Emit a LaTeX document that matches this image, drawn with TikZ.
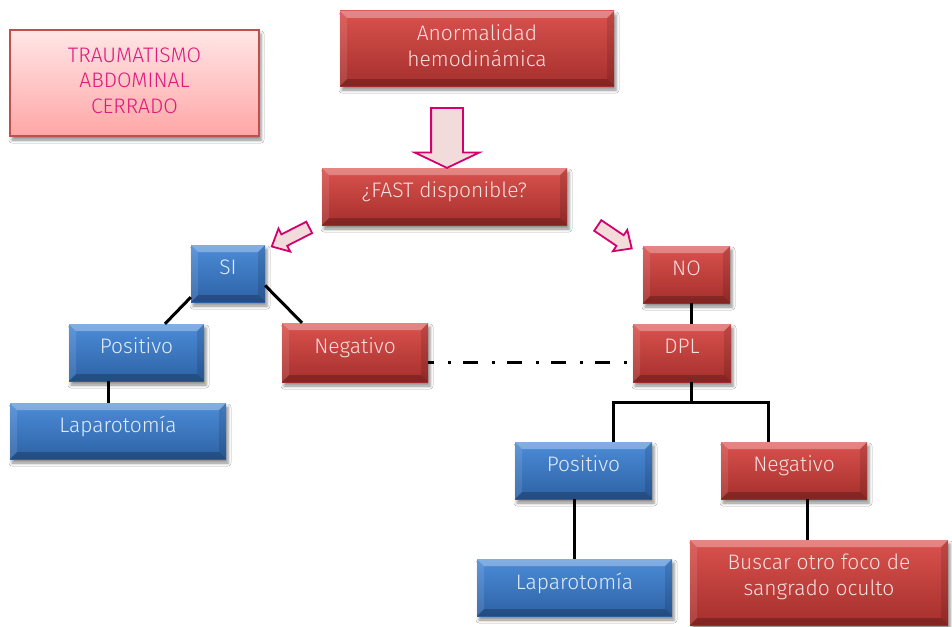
\documentclass[tikz,border=0pt]{standalone}
\usepackage{fontspec}
\setmainfont{Fira Sans Light}
\usetikzlibrary{shapes.arrows,shadows.blur}

\definecolor{redtop}{HTML}{DA524E}
\definecolor{redbot}{HTML}{A52F2C}
\definecolor{bluetop}{HTML}{4C8CD8}
\definecolor{bluebot}{HTML}{2D62A5}
\definecolor{redtext}{HTML}{F6E0E0}
\definecolor{bluetext}{HTML}{E2ECF8}
\definecolor{pinktop}{HTML}{FFE6E6}
\definecolor{pinkbot}{HTML}{FFA6A6}
\definecolor{pinkedge}{HTML}{C0504D}
\definecolor{titlepink}{HTML}{E0197D}
\definecolor{arrowfill}{HTML}{F2DCDB}
\definecolor{arrowedge}{HTML}{D4006E}

% bevelled faces drawn inside each box
\newcommand\bevelfaces{%
  \path (path picture bounding box.north west) coordinate (bv1)
        (path picture bounding box.north east) coordinate (bv2)
        (path picture bounding box.south east) coordinate (bv3)
        (path picture bounding box.south west) coordinate (bv4);
  \path ([shift={(7pt,-7pt)}]bv1) coordinate (iv1)
        ([shift={(-7pt,-7pt)}]bv2) coordinate (iv2)
        ([shift={(-7pt,7pt)}]bv3) coordinate (iv3)
        ([shift={(7pt,7pt)}]bv4) coordinate (iv4);
  \fill[white,opacity=.30] (bv1)--(bv2)--(iv2)--(iv1)--cycle;
  \fill[white,opacity=.10] (bv1)--(iv1)--(iv4)--(bv4)--cycle;
  \fill[black,opacity=.12] (bv2)--(bv3)--(iv3)--(iv2)--cycle;
  \fill[black,opacity=.22] (bv4)--(iv4)--(iv3)--(bv3)--cycle;
}

\newcommand\boxliftdepth{13}
\tikzset{
  % extra depth under the last line so the text sits a little high
  lift/.code={\renewcommand\boxliftdepth{#1}},
  plainbox/.style={rectangle, inner sep=0pt, align=center,
    font=\fontsize{21}{25.5}\selectfont, lift=13,
    execute at end node={\rule[-\boxliftdepth pt]{0pt}{\boxliftdepth pt}},
    blur shadow={shadow xshift=2pt, shadow yshift=-4pt,
                 shadow blur radius=3pt, shadow opacity=45}},
  box/.style={plainbox, path picture={\bevelfaces}},
  redbox/.style={box, top color=redtop, bottom color=redbot, text=redtext},
  bluebox/.style={box, top color=bluetop, bottom color=bluebot, text=bluetext},
  titlebox/.style={plainbox, top color=pinktop, bottom color=pinkbot,
    draw=pinkedge, line width=1.5pt, text=titlepink},
  sz/.style 2 args={minimum width=#1pt, minimum height=#2pt},
  link/.style={line width=3pt, black},
  dashdot/.style={line width=3pt, black,
    dash pattern=on 15pt off 14pt on 3pt off 12pt, dash phase=9pt},
  blockarrow/.style={single arrow, fill=arrowfill, draw=arrowedge,
    line width=1.8pt, inner xsep=0pt, single arrow head indent=0pt},
}

\begin{document}
\begin{tikzpicture}[x=1pt,y=-1pt]
\fill[white] (0,0) rectangle (952,626);
\useasboundingbox (0,0) rectangle (952,626);

% boxes
\node[titlebox, sz={249}{106}, lift=5] (title) at (134.5,83) {TRAUMATISMO\\ABDOMINAL\\CERRADO};
\node[redbox, sz={274}{75}, lift=6] (anorm) at (477,48.5) {Anormalidad\\hemodinámica};
\node[redbox, sz={245}{57}] (fast) at (444.5,196.5) {¿FAST disponible?};
\node[bluebox, sz={74}{57}] (si) at (228,273.5) {SI};
\node[redbox, sz={87}{57}] (no) at (686.5,274.5) {NO};
\node[bluebox, sz={135}{57}] (posL) at (136.5,352.5) {Positivo};
\node[redbox, sz={146}{59}] (negL) at (355,352.5) {Negativo};
\node[redbox, sz={98}{58}] (dpl) at (682,353) {DPL};
\node[bluebox, sz={216}{56}] (lapL) at (118,431) {Laparotomía};
\node[bluebox, sz={137}{57}] (posR) at (583.5,470.5) {Positivo};
\node[redbox, sz={146}{57}] (negR) at (794,470.5) {Negativo};
\node[bluebox, sz={195}{57}] (lapR) at (574.5,587.5) {Laparotomía};
\node[redbox, sz={258}{85}, lift=16] (busca) at (819,582.5) {Buscar otro foco de\\sangrado oculto};

% block arrows
\node[blockarrow, rotate=-90, anchor=tail, minimum height=60pt, inner ysep=15pt,
      single arrow head extend=16.5pt, single arrow tip angle=129] (down) at (447,107) {};
\node[blockarrow, rotate=207, anchor=tail, minimum height=42pt, inner ysep=5.5pt,
      single arrow head extend=6.5pt, single arrow tip angle=85] (toSi) at (310,227) {};
\node[blockarrow, rotate=-34, anchor=tail, minimum height=41pt, inner ysep=5.5pt,
      single arrow head extend=6.5pt, single arrow tip angle=85] (toNo) at (597,225) {};

% connectors
\draw[link] ([yshift=5pt]si.south west) -- ([xshift=28.5pt]posL.north);
\draw[link] ([yshift=-12pt]si.east) -- ([xshift=-53pt]negL.north);
\draw[link] ([xshift=-28.5pt]posL.south) -- ([xshift=-28.5pt]posL.south |- lapL.north);
\draw[link] ([xshift=4.5pt]no.south) -- ([xshift=4.5pt]no.south |- dpl.north);
\draw[dashdot] ([yshift=-10pt]negL.east) -- ([yshift=-10pt]negL.east -| dpl.west);
\coordinate (split) at ([xshift=9pt,yshift=-20pt]dpl.south);
\draw[link] ([xshift=9pt]dpl.south) -- (split);
\draw[link] ([xshift=29.5pt]posR.north) |- (split) -| ([xshift=-26pt]negR.north);
\draw[link] ([xshift=-9.5pt]posR.south) -- ([xshift=-9.5pt]posR.south |- lapR.north);
\draw[link] ([xshift=13pt]negR.south) -- ([xshift=13pt]negR.south |- busca.north);
\end{tikzpicture}
\end{document}
